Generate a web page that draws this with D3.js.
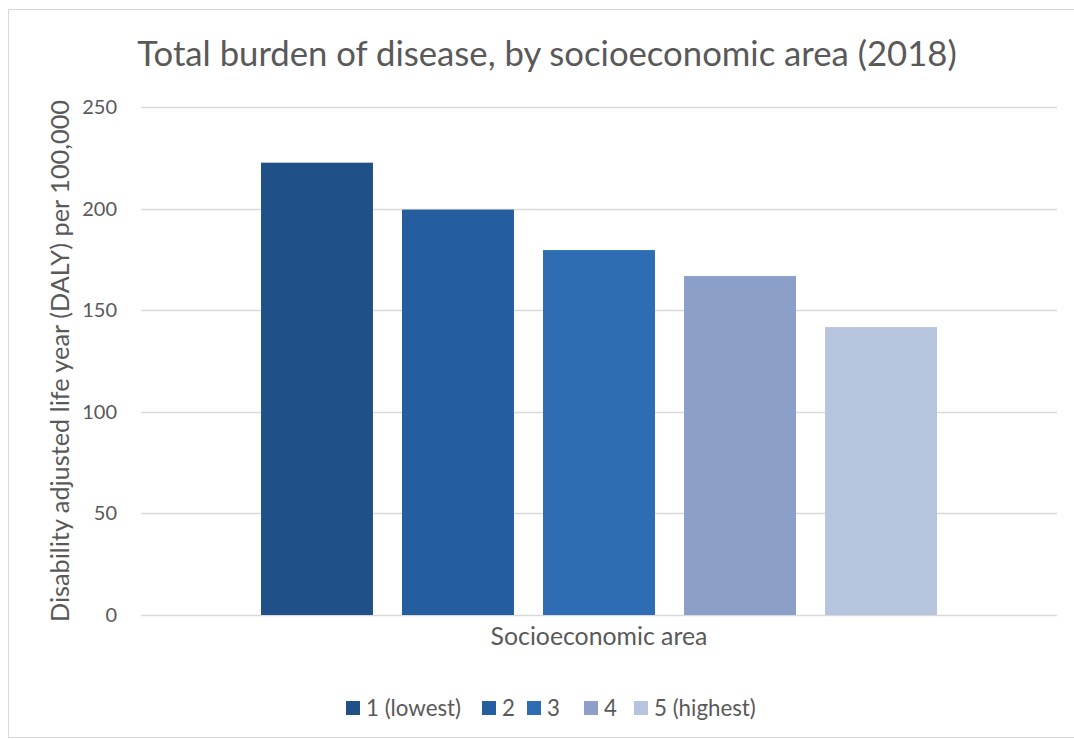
<!DOCTYPE html>
<html>
<head>
<meta charset="utf-8">
<script src="https://cdn.jsdelivr.net/npm/d3@7"></script>
<style>
  body { margin: 0; background: #fff; }
  text { font-family: Lato, "Open Sans", sans-serif; fill: #595959; }
</style>
</head>
<body>
<div id="chart"></div>
<script>
var width = 1074;
var height = 739;

// data
var areas = ["1 (lowest)", "2", "3", "4", "5 (highest)"];
var daly = [222.6, 199.5, 179.6, 166.8, 141.7];
var colors = ["#1F5087", "#255E9E", "#2E6DB4", "#8B9FC9", "#B7C4DD"];
var yTicks = [0, 50, 100, 150, 200, 250];
var category = ["Socioeconomic area"];

var margin = {left: 141, right: 17, top: 107, bottom: 124};

var svg = d3.select("#chart").append("svg")
    .attr("width", width)
    .attr("height", height);

// chart border
svg.append("rect")
    .attr("x", 8.5).attr("y", 9.5)
    .attr("width", width).attr("height", height - 11)
    .attr("fill", "none")
    .attr("stroke", "#D9D9D9");

var yScale = d3.scaleLinear()
    .domain([0, 250])
    .range([height - margin.bottom, margin.top]);

var x0 = d3.scaleBand()
    .domain(category)
    .range([margin.left, width - margin.right]);

var x1 = d3.scaleBand()
    .domain(areas)
    .range([0, x0.bandwidth()])
    .paddingInner(0.206)
    .paddingOuter(0.851);

// gridlines
svg.selectAll("line.grid")
    .data(yTicks)
    .enter()
    .append("line")
        .attr("class", "grid")
        .attr("x1", margin.left)
        .attr("x2", width - margin.right)
        .attr("y1", function(d){ return Math.round(yScale(d)) + 0.5; })
        .attr("y2", function(d){ return Math.round(yScale(d)) + 0.5; })
        .attr("stroke", "#D9D9D9")
        .attr("stroke-width", 1.3);

// tick labels
svg.selectAll("text.tick")
    .data(yTicks)
    .enter()
    .append("text")
        .attr("class", "tick")
        .attr("x", margin.left - 24)
        .attr("y", function(d){ return yScale(d); })
        .attr("dy", "0.35em")
        .attr("text-anchor", "end")
        .style("font-size", "20px")
        .text(function(d){ return d; });

// bars
var g = svg.append("g")
    .attr("transform", "translate(" + x0(category[0]) + ",0)");

g.selectAll("rect")
    .data(daly)
    .enter()
    .append("rect")
        .attr("x", function(d, i){ return x1(areas[i]); })
        .attr("y", function(d){ return yScale(d); })
        .attr("width", x1.bandwidth())
        .attr("height", function(d){ return yScale(0) - yScale(d); })
        .attr("fill", function(d, i){ return colors[i]; });

// title
svg.append("text")
    .attr("x", 547)
    .attr("y", 66)
    .attr("text-anchor", "middle")
    .style("font-size", "34.7px")
    .text("Total burden of disease, by socioeconomic area (2018)");

// axis titles
svg.append("text")
    .attr("transform", "translate(69," + yScale(125) + ") rotate(-90)")
    .attr("text-anchor", "middle")
    .style("font-size", "25.3px")
    .text("Disability adjusted life year (DALY) per 100,000");

svg.append("text")
    .attr("x", x0(category[0]) + x0.bandwidth() / 2)
    .attr("y", 645)
    .attr("text-anchor", "middle")
    .style("font-size", "24.8px")
    .text(category[0]);

// legend
var legendX = [346, 482, 527, 584, 634];
var legend = svg.selectAll("g.legend")
    .data(areas)
    .enter()
    .append("g")
        .attr("class", "legend")
        .attr("transform", function(d, i){ return "translate(" + legendX[i] + ",708)"; });

legend.append("rect")
    .attr("x", 0).attr("y", -7)
    .attr("width", 14).attr("height", 14)
    .attr("fill", function(d, i){ return colors[i]; });

legend.append("text")
    .attr("x", 20)
    .attr("dy", "0.35em")
    .style("font-size", "22.3px")
    .text(function(d){ return d; });
</script>
</body>
</html>
